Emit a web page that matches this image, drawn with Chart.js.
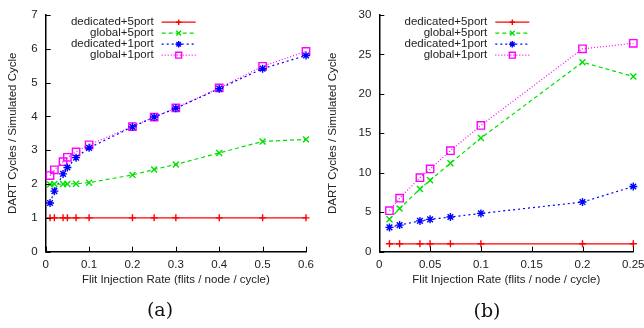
<!DOCTYPE html>
<html>
<head>
<meta charset="utf-8">
<script src="https://cdn.jsdelivr.net/npm/chart.js@4.4.1/dist/chart.umd.min.js"></script>
<style>
  html, body { margin: 0; padding: 0; background: #fff; overflow: hidden; width: 644px; height: 328px; }
  .panel { position: absolute; top: 0; }
  .cap { position: absolute; font-family: "DejaVu Serif", serif; font-size: 19px; color: #111; transform: translateX(-50%); }
</style>
</head>
<body>
<div class="panel" style="left:0px"><canvas id="chartA" width="322" height="300"></canvas></div>
<div class="panel" style="left:320px"><canvas id="chartB" width="340" height="300"></canvas></div>
<div class="cap" style="left:160px; top:298px">(a)</div>
<div class="cap" style="left:487px; top:299px">(b)</div>
<script>
// Series names, shared by both panels
const seriesNames = ["dedicated+5port", "global+5port", "dedicated+1port", "global+1port"];

// Panel (a): flit injection rate 0 .. 0.6
const ratesA = [0.01, 0.02, 0.04, 0.05, 0.07, 0.1, 0.2, 0.25, 0.3, 0.4, 0.5, 0.6];
const ded5A = [1, 1, 1, 1, 1, 1, 1, 1, 1, 1, 1, 1];
const glob5A = [1.99, 2.0, 2.0, 2.0, 2.01, 2.04, 2.27, 2.43, 2.58, 2.92, 3.26, 3.32];
const ded1A = [1.44, 1.79, 2.30, 2.49, 2.78, 3.07, 3.69, 3.98, 4.24, 4.82, 5.41, 5.80];
const glob1A = [2.25, 2.42, 2.66, 2.79, 2.95, 3.16, 3.70, 3.98, 4.25, 4.84, 5.48, 5.92];

// Panel (b): flit injection rate 0 .. 0.25
const ratesB = [0.01, 0.02, 0.04, 0.05, 0.07, 0.1, 0.2, 0.25];
const ded5B = [1, 1, 1, 1, 1, 1, 1, 1];
const glob5B = [4.1, 5.47, 7.94, 9.05, 11.2, 14.4, 24.0, 22.2];
const ded1B = [3.08, 3.37, 3.9, 4.1, 4.4, 4.85, 6.29, 8.26];
const glob1B = [5.2, 6.78, 9.37, 10.48, 12.8, 16.0, 25.7, 26.4];

const xTitle = "Flit Injection Rate (flits / node / cycle)";
const yTitle = "DART Cycles / Simulated Cycle";

const FONT = "'Liberation Sans', Arial, sans-serif";
const TEXT = "#222";

// line look for each series (gnuplot style)
const styles = [
  { color: "#ff0000", dash: [], point: "cross", radius: 3.5 },
  { color: "#00e000", dash: [4, 3], point: "crossRot", radius: 4.2 },
  { color: "#0000ff", dash: [2, 3], point: "star", radius: 4 },
  { color: "#ff00ff", dash: [1, 2], point: "rect", radius: 5.2 },
];

function makeDatasets(xs, seriesList) {
  return seriesList.map((ys, i) => ({
    label: seriesNames[i],
    data: xs.map((x, j) => ({ x: x, y: ys[j] })),
    borderColor: styles[i].color,
    borderWidth: 1.2,
    borderDash: styles[i].dash,
    pointStyle: styles[i].point,
    pointRadius: styles[i].radius,
    pointBorderColor: styles[i].color,
    pointBackgroundColor: "rgba(0,0,0,0)",
    pointBorderWidth: 1.4,
    tension: 0,
    fill: false,
    clip: false,
  }));
}

// inward tick marks and in-plot key, like gnuplot
const gnuplotLook = {
  id: "gnuplotLook",
  afterDraw(chart) {
    const ctx = chart.ctx;
    const area = chart.chartArea;
    const xs = chart.scales.x, ys = chart.scales.y;
    ctx.save();
    ctx.strokeStyle = "#000";
    ctx.lineWidth = 1;
    ctx.setLineDash([]);
    xs.ticks.forEach((t) => {
      const px = Math.round(xs.getPixelForValue(t.value)) + 0.5;
      ctx.beginPath();
      ctx.moveTo(px, area.bottom);
      ctx.lineTo(px, area.bottom - 5);
      ctx.stroke();
    });
    ys.ticks.forEach((t) => {
      const py = Math.round(ys.getPixelForValue(t.value)) + 0.5;
      ctx.beginPath();
      ctx.moveTo(area.left, py);
      ctx.lineTo(area.left + 5, py);
      ctx.stroke();
    });

    // key
    const textRight = area.left + 108;
    const x0 = area.left + 116, x1 = area.left + 150;
    ctx.font = "11.5px " + FONT;
    ctx.textAlign = "right";
    ctx.textBaseline = "middle";
    chart.data.datasets.forEach((ds, i) => {
      const y = 21.7 + i * 11;
      ctx.fillStyle = TEXT;
      ctx.fillText(ds.label, textRight, y);
      ctx.strokeStyle = ds.borderColor;
      ctx.lineWidth = 1.2;
      ctx.setLineDash(ds.borderDash);
      ctx.beginPath();
      ctx.moveTo(x0, y + 0.5);
      ctx.lineTo(x1, y + 0.5);
      ctx.stroke();
      ctx.setLineDash([]);
      ctx.lineWidth = 1.4;
      ctx.fillStyle = "rgba(0,0,0,0)";
      Chart.helpers.drawPoint(ctx, { pointStyle: ds.pointStyle, radius: ds.pointRadius * 0.8, borderWidth: 1.4 }, (x0 + x1) / 2, y + 0.5);
    });
    ctx.restore();
  },
};

function makeChart(id, xs, seriesList, xMax, xStep, yMax, yStep, yWidth, rightPad) {
  return new Chart(document.getElementById(id), {
    type: "line",
    data: { datasets: makeDatasets(xs, seriesList) },
    options: {
      responsive: false,
      animation: false,
      layout: { padding: { left: 0, top: 8, right: rightPad, bottom: 0 } },
      plugins: { legend: { display: false }, tooltip: { enabled: false } },
      scales: {
        x: {
          type: "linear",
          min: 0,
          max: xMax,
          grid: { display: false, drawTicks: false },
          border: { display: true, color: "#000", width: 1.5 },
          ticks: {
            stepSize: xStep,
            padding: 6,
            maxRotation: 0,
            color: TEXT,
            font: { family: FONT, size: 11.5 },
            callback: (v) => String(Math.round(v * 100) / 100),
          },
          title: { display: true, text: xTitle, color: TEXT, font: { family: FONT, size: 11.5 }, padding: { top: 0, bottom: 13 } },
          afterFit: (s) => { s.height = 48.3; },
        },
        y: {
          min: 0,
          max: yMax,
          grid: { display: false, drawTicks: false },
          border: { display: true, color: "#000", width: 1.5 },
          ticks: {
            stepSize: yStep,
            padding: 8,
            color: TEXT,
            font: { family: FONT, size: 11.5 },
          },
          title: { display: true, text: yTitle, color: TEXT, font: { family: FONT, size: 11.5 }, padding: { top: 6, bottom: 0 } },
          afterFit: (s) => { s.width = yWidth; },
        },
      },
    },
    plugins: [gnuplotLook],
  });
}

makeChart("chartA", ratesA, [ded5A, glob5A, ded1A, glob1A], 0.6, 0.1, 7, 1, 45.7, 16);
makeChart("chartB", ratesB, [ded5B, glob5B, ded1B, glob1B], 0.25, 0.05, 30, 5, 59.3, 26.7);
</script>
</body>
</html>
